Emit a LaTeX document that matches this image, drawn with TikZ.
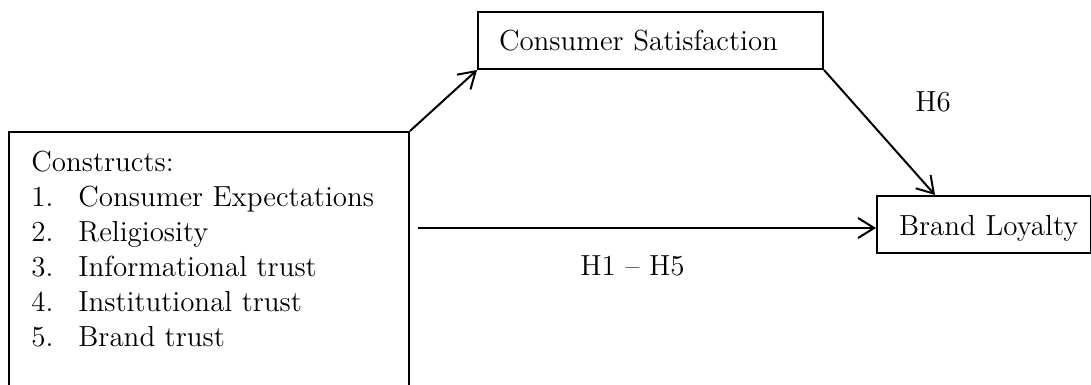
\documentclass[tikz,border=0pt]{standalone}
\usetikzlibrary{arrows.meta,calc}
\begin{document}
\begin{tikzpicture}[x=0.5pt,y=-0.5pt,
  font=\fontsize{14.5}{17.5}\selectfont,
  box/.style={draw,line width=1pt,rectangle,inner sep=0pt,anchor=north west},
  labelbox/.style={box,align=left,text height=10.5pt,text depth=0pt},
  txt/.style={anchor=base west,inner sep=0pt},
  link/.style={line width=1pt,-{Straight Barb[length=8pt,width=10pt]}}]
\useasboundingbox (0,0) rectangle (1091,385);
\clip (0,0) rectangle (1091,385);
% left box
\node[box,minimum width=200pt,minimum height=140pt] (cons) at (8,131) {};
\node[txt] (list) at (31,171) {\begin{tabular}[t]{@{}p{23.5pt}@{}l@{}}
\multicolumn{2}{@{}l@{}}{Constructs:}\\
1. & Consumer Expectations\\
2. & Religiosity\\
3. & Informational trust\\
4. & Institutional trust\\
5. & Brand trust
\end{tabular}};
% consumer satisfaction
\node[labelbox,minimum width=172.5pt,minimum height=28.5pt,inner xsep=10.5pt,text width=151.5pt] (cs) at (477,11) {\mbox{Consumer Satisfaction}};
% brand loyalty
\node[labelbox,minimum width=107pt,minimum height=28.5pt,inner xsep=11pt,text width=85pt] (bl) at (876,195) {\makebox[85pt][l]{Brand Loyalty}};
% connectors
\draw[link] (cons.north east) -- (cs.south west);
\draw[link] (cs.south east) -- ($(bl.north west)+(59,0)$);
\coordinate (hs) at (418,228);
\draw[link] (hs) -- (hs -| bl.west);
% labels
\node[txt] (h6) at (915,112) {H6};
\node[txt] (h15) at (580,275) {H1 -- H5};
\end{tikzpicture}
\end{document}
